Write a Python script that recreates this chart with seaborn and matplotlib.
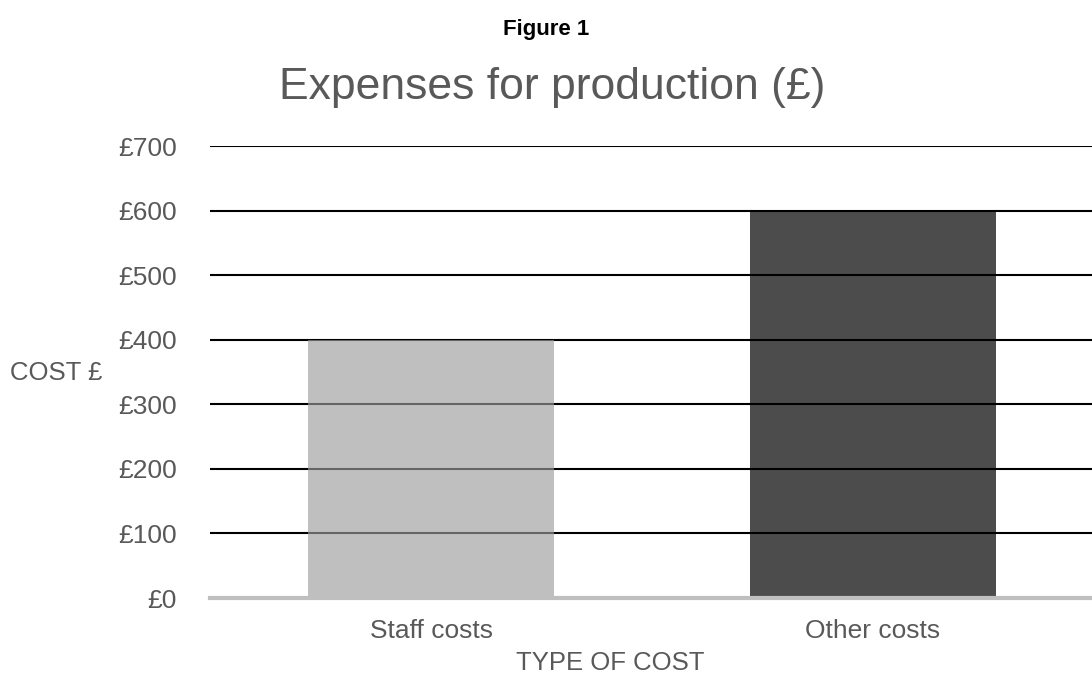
import matplotlib
matplotlib.use("Agg")
import matplotlib.pyplot as plt
import seaborn as sns
import pandas as pd

categories = ["Staff costs", "Other costs"]
costs = [400, 600]
y_ticks = [0, 100, 200, 300, 400, 500, 600, 700]
tick_labels = ["£" + str(v) for v in y_ticks]

sns.set_style("white")
plt.rcParams["font.family"] = ["Liberation Sans", "DejaVu Sans"]

df = pd.DataFrame({"category": categories, "cost": costs})

fig = plt.figure(figsize=(10.92, 6.75), dpi=100)
ax = fig.add_axes([210 / 1092, 1 - 598 / 675, 884 / 1092, 452 / 675])

# gridlines behind the bars
for v in y_ticks[1:]:
    ax.axhline(v, color="black", linewidth=1.5, zorder=0)

sns.barplot(data=df, x="category", y="cost", width=0.555, ax=ax, zorder=2,
            linewidth=0)
bar_styles = [((157 / 255, 157 / 255, 157 / 255), 0.65), ((0, 0, 0), 0.70)]
for patch, (c, a) in zip(ax.patches, bar_styles):
    patch.set_facecolor((*c, a))
    patch.set_edgecolor("none")

ax.set_ylim(0, 700)
ax.set_xlim(-0.5, 1.5)
ax.set_yticks(y_ticks)
ax.set_yticklabels(tick_labels)
ax.tick_params(axis="y", length=0, pad=24, labelsize=19, labelcolor="#595959")
ax.tick_params(axis="x", length=0, pad=15, labelsize=19, labelcolor="#595959")
for s in ["top", "right", "left"]:
    ax.spines[s].set_visible(False)
ax.spines["bottom"].set_color("#bfbfbf")
ax.spines["bottom"].set_linewidth(3)
ax.spines["bottom"].set_zorder(3)
ax.set_xlabel("")
ax.set_ylabel("")

fig.text(10 / 1092, 1 - 380 / 675, "COST £", ha="left", va="baseline",
         fontsize=18.5, color="#595959")
fig.text(610 / 1092, 1 - 670 / 675, "TYPE OF COST", ha="center", va="baseline",
         fontsize=18.5, color="#595959")
fig.text(546 / 1092, 1 - 30 / 675, "Figure 1", ha="center", va="center",
         fontsize=16, fontweight="bold", color="black")
fig.text(552 / 1092, 1 - 99 / 675, "Expenses for production (£)", ha="center",
         va="baseline", fontsize=32, color="#595959")

fig.savefig("out.png", dpi=100)
